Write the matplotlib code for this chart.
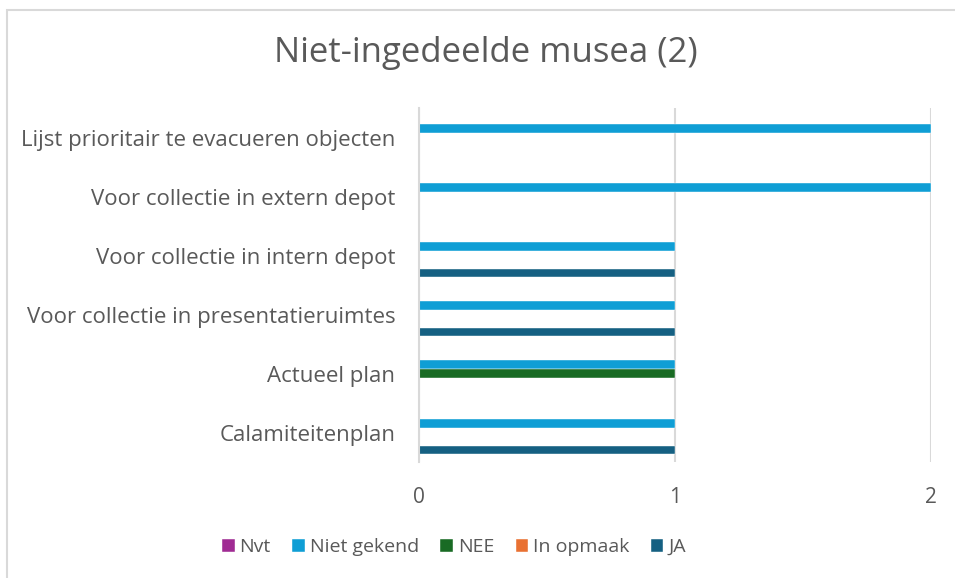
import numpy as np
import matplotlib.pyplot as plt
from matplotlib.patches import Rectangle

categories = ['Calamiteitenplan', 'Actueel plan', 'Voor collectie in presentatieruimtes',
              'Voor collectie in intern depot', 'Voor collectie in extern depot',
              'Lijst prioritair te evacueren objecten']
series = ['Nvt', 'Niet gekend', 'NEE', 'In opmaak', 'JA']
nvt = [0, 0, 0, 0, 0, 0]
niet_gekend = [1, 1, 1, 1, 2, 2]
nee = [0, 1, 0, 0, 0, 0]
in_opmaak = [0, 0, 0, 0, 0, 0]
ja = [1, 0, 1, 1, 0, 0]
colors = ['#A02B93', '#0F9ED5', '#196B24', '#E97132', '#156082']
xticks = [0, 1, 2]

plt.rcParams['font.family'] = ['Open Sans', 'DejaVu Sans']
txt = '#595959'

fig = plt.figure(figsize=(9.55, 5.78), dpi=100)
ax = fig.add_axes([419/955, 1-462/578, 512/955, 354/578])

y = np.arange(len(categories))
h = 0.147
for k, (name, vals) in enumerate(zip(series, [nvt, niet_gekend, nee, in_opmaak, ja])):
    ax.barh(y + (2 - k) * h, vals, height=h, color=colors[k], label=name,
            edgecolor='white', linewidth=0.3)

ax.set_ylim(-0.5, 5.5)
ax.set_xlim(0, 2)
ax.set_yticks(y)
ax.set_yticklabels(categories, fontsize=16, color=txt)
ax.set_xticks(xticks)
ax.set_xticklabels([str(t) for t in xticks], fontsize=15, color=txt)
ax.tick_params(axis='both', length=0)
ax.tick_params(axis='y', pad=17)
ax.tick_params(axis='x', pad=18)
for s in ['top', 'right', 'bottom']:
    ax.spines[s].set_visible(False)
ax.spines['left'].set_color('#D9D9D9')
ax.spines['left'].set_linewidth(1.5)
ax.grid(axis='x', color='#D9D9D9', linewidth=1.5)
ax.set_axisbelow(True)

fig.text(486/955, 1-53/578, 'Niet-ingedeelde musea (2)', fontsize=25, color=txt,
         ha='center', va='center')

ax.legend(loc='center', bbox_to_anchor=(454/955, 1-547/578), bbox_transform=fig.transFigure,
          ncol=5, frameon=False, fontsize=14, labelcolor=txt, handlelength=0.65,
          handleheight=0.65, handletextpad=0.25, columnspacing=1.1)

fig.patches.append(Rectangle((7/955, -0.1), 1.2, 1 - 10/578 + 0.1, transform=fig.transFigure,
                             fill=False, edgecolor='#D9D9D9', linewidth=1.5))

fig.savefig('out.png', dpi=100, facecolor='white')
